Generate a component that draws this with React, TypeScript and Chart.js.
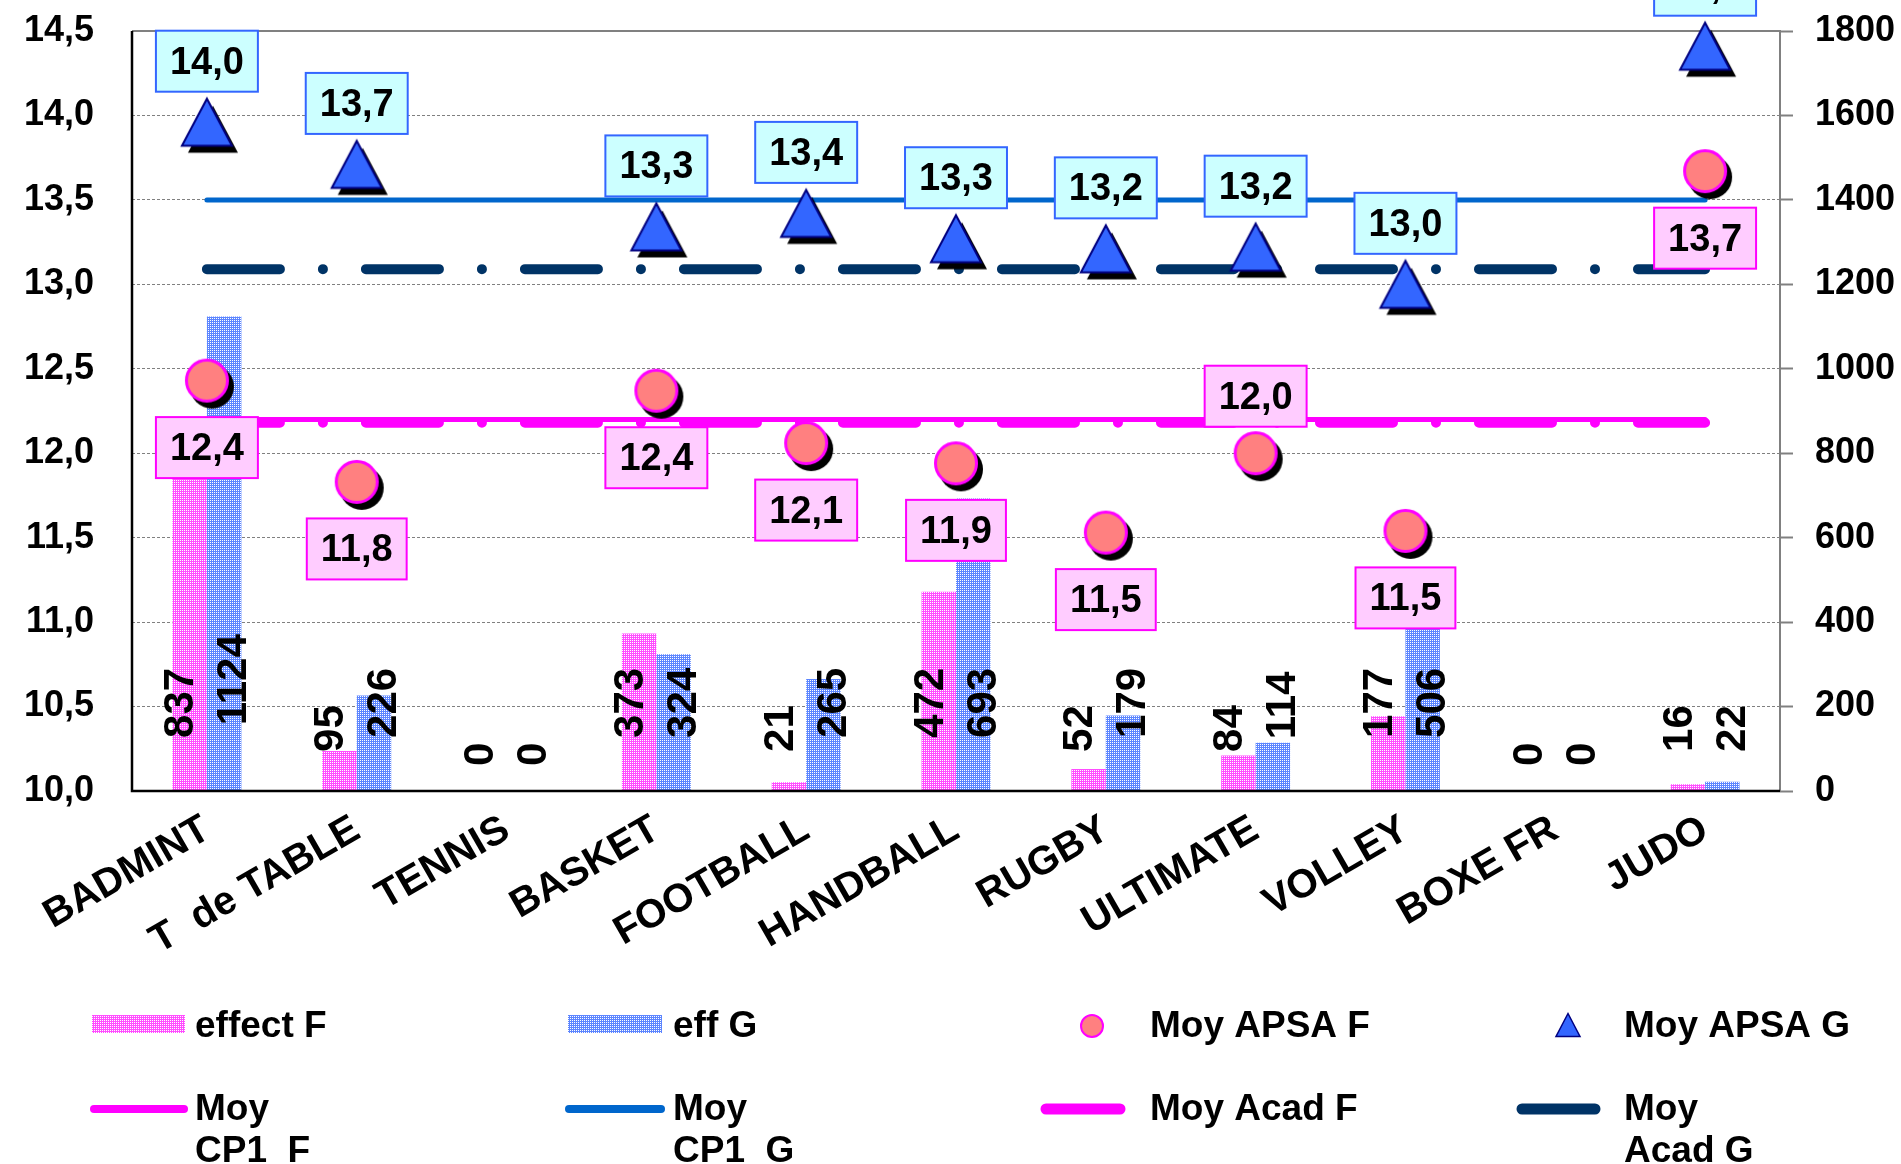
import React, { useEffect, useRef } from 'react';
import { Chart, registerables } from 'chart.js';

Chart.register(...registerables);

// ---------------- DATA ----------------
const categories = ['BADMINT', 'T  de TABLE', 'TENNIS', 'BASKET', 'FOOTBALL', 'HANDBALL', 'RUGBY', 'ULTIMATE', 'VOLLEY', 'BOXE FR', 'JUDO'];
const effectF = [837, 95, 0, 373, 21, 472, 52, 84, 177, 0, 16];
const effG = [1124, 226, 0, 324, 265, 693, 179, 114, 506, 0, 22];
const moyApsaF = [12.43, 11.83, null, 12.37, 12.06, 11.94, 11.53, 12.0, 11.54, null, 13.67];
const moyApsaG = [13.96, 13.71, null, 13.34, 13.42, 13.27, 13.21, 13.22, 13.0, null, 14.41];
const moyCP1F = [12.2, 12.2, 12.2, 12.2, 12.2, 12.2, 12.2, 12.2, 12.2, 12.2, 12.2];
const moyCP1G = [13.5, 13.5, 13.5, 13.5, 13.5, 13.5, 13.5, 13.5, 13.5, 13.5, 13.5];
const moyAcadF = [12.18, 12.18, 12.18, 12.18, 12.18, 12.18, 12.18, 12.18, 12.18, 12.18, 12.18];
const moyAcadG = [13.09, 13.09, 13.09, 13.09, 13.09, 13.09, 13.09, 13.09, 13.09, 13.09, 13.09];
const leftTickValues = [10.0, 10.5, 11.0, 11.5, 12.0, 12.5, 13.0, 13.5, 14.0, 14.5];
const rightTickValues = [0, 200, 400, 600, 800, 1000, 1200, 1400, 1600, 1800];
const seriesNames = ['effect F', 'eff G', 'Moy APSA F', 'Moy APSA G', 'Moy CP1  F', 'Moy CP1  G', 'Moy Acad F', 'Moy Acad G'];
const legendLines = [['effect F'], ['eff G'], ['Moy APSA F'], ['Moy APSA G'], ['Moy', 'CP1  F'], ['Moy', 'CP1  G'], ['Moy Acad F'], ['Moy', 'Acad G']];
// label placement for "Moy APSA F" boxes (relative to the marker)
const apsaFLabelSide = ['below', 'below', 'below', 'below', 'below', 'below', 'below', 'above', 'below', 'below', 'below'];

// ---------------- STYLE ----------------
const FONT = "'Liberation Sans', Arial, Helvetica, sans-serif";
const PINK = '#FF00FF';
const BLUE_LINE = '#0066CC';
const NAVY = '#003366';
const TRI_FILL = '#3366FF';
const TRI_STROKE = '#000080';
const CIRC_FILL = '#FF8080';
const DASH_DOT = [73, 43, 0.01, 43];

function makePattern(base: string, dot: string) {
  const c = document.createElement('canvas');
  c.width = 2;
  c.height = 2;
  const g = c.getContext('2d')!;
  g.fillStyle = base;
  g.fillRect(0, 0, 2, 2);
  g.fillStyle = dot;
  g.fillRect(0, 0, 1, 1);
  return g.createPattern(c, 'repeat')!;
}

function makeCircleMarker() {
  const S = 60;
  const c = document.createElement('canvas');
  c.width = S;
  c.height = S;
  const g = c.getContext('2d')!;
  const cx = S / 2, cy = S / 2;
  g.fillStyle = '#000';
  g.beginPath();
  g.arc(cx + 5, cy + 6, 22, 0, Math.PI * 2);
  g.fill();
  g.fillStyle = CIRC_FILL;
  g.strokeStyle = PINK;
  g.lineWidth = 3;
  g.beginPath();
  g.arc(cx, cy, 20.5, 0, Math.PI * 2);
  g.fill();
  g.stroke();
  return c;
}

function triPath(g: CanvasRenderingContext2D, cx: number, cy: number, hw: number, hh: number) {
  g.beginPath();
  g.moveTo(cx, cy - hh);
  g.lineTo(cx + hw, cy + hh);
  g.lineTo(cx - hw, cy + hh);
  g.closePath();
}

function makeTriangleMarker() {
  const W = 74, H = 72;
  const c = document.createElement('canvas');
  c.width = W;
  c.height = H;
  const g = c.getContext('2d')!;
  const cx = W / 2, cy = H / 2;
  g.fillStyle = '#000';
  triPath(g, cx + 6, cy + 7, 25, 23.5);
  g.fill();
  g.fillStyle = TRI_FILL;
  g.strokeStyle = TRI_STROKE;
  g.lineWidth = 2;
  triPath(g, cx, cy, 25, 23.5);
  g.fill();
  g.stroke();
  return c;
}

const fmt1 = (v: number) => v.toFixed(1).replace('.', ',');

function drawBox(ctx: CanvasRenderingContext2D, cx: number, cy: number, text: string, fill: string, stroke: string) {
  ctx.font = `bold 38px ${FONT}`;
  const w = ctx.measureText(text).width + 28;
  const h = 61;
  ctx.fillStyle = fill;
  ctx.fillRect(cx - w / 2, cy - h / 2, w, h);
  ctx.strokeStyle = stroke;
  ctx.lineWidth = 2;
  ctx.strokeRect(cx - w / 2, cy - h / 2, w, h);
  ctx.fillStyle = '#000';
  ctx.textAlign = 'center';
  ctx.textBaseline = 'middle';
  ctx.fillText(text, cx, cy + 2);
}

export default function App() {
  const ref = useRef<HTMLCanvasElement>(null);

  useEffect(() => {
    const canvas = ref.current!;
    const pinkPattern = makePattern('#FF4DFF', '#FFFFFF');
    const bluePattern = makePattern('#5C85FF', '#FFFFFF');
    const circleMarker = makeCircleMarker();
    const triMarker = makeTriangleMarker();

    const framePlugin = {
      id: 'frame',
      beforeDatasetsDraw(chart: any) {
        const { ctx, chartArea: a } = chart;
        ctx.save();
        ctx.lineWidth = 2;
        ctx.strokeStyle = '#808080';
        ctx.beginPath();
        ctx.moveTo(a.left, a.top);
        ctx.lineTo(a.right, a.top);
        ctx.lineTo(a.right, a.bottom);
        ctx.stroke();
        ctx.restore();
      },
      afterDatasetsDraw(chart: any) {
        const { ctx, chartArea: a } = chart;
        ctx.save();
        ctx.lineWidth = 2.5;
        ctx.strokeStyle = '#000';
        ctx.beginPath();
        ctx.moveTo(a.left, a.top);
        ctx.lineTo(a.left, a.bottom);
        ctx.lineTo(a.right, a.bottom);
        ctx.stroke();
        ctx.restore();
      },
    };

    const labelPlugin = {
      id: 'valueLabels',
      afterDatasetsDraw(chart: any) {
        const { ctx, chartArea: a } = chart;
        const xs = chart.scales.x;
        const ys = chart.scales.y;
        ctx.save();
        // bar value labels (vertical)
        ctx.font = `bold 42px ${FONT}`;
        ctx.fillStyle = '#000';
        ctx.textAlign = 'left';
        ctx.textBaseline = 'middle';
        const groups: [number[], number][] = [[effectF, -25], [effG, 28]];
        groups.forEach(([arr, dx]) => {
          arr.forEach((v, i) => {
            const t = String(v);
            const w = ctx.measureText(t).width;
            const x = xs.getPixelForValue(i) + dx;
            const yb = a.bottom - 11 - 0.6 * w;
            ctx.save();
            ctx.translate(x, yb);
            ctx.rotate(-Math.PI / 2);
            ctx.fillText(t, 0, 0);
            ctx.restore();
          });
        });
        // APSA G boxes (above triangles)
        moyApsaG.forEach((v, i) => {
          if (v == null) return;
          const x = xs.getPixelForValue(i);
          const y = ys.getPixelForValue(v);
          drawBox(ctx, x, y - 61, fmt1(v), '#CCFFFF', '#3366FF');
        });
        // APSA F boxes
        moyApsaF.forEach((v, i) => {
          if (v == null) return;
          const x = xs.getPixelForValue(i);
          const y = ys.getPixelForValue(v);
          const cy = apsaFLabelSide[i] === 'above' ? y - 57 : y + 67;
          drawBox(ctx, x, cy, fmt1(v), '#FFCCFF', PINK);
        });
        ctx.restore();
      },
    };

    const legendPlugin = {
      id: 'customLegend',
      afterDraw(chart: any) {
        const ctx: CanvasRenderingContext2D = chart.ctx;
        const colX = [92, 568, 1041, 1517];
        const textX = [195, 673, 1150, 1624];
        const row1 = 1024;
        const row2 = 1109;
        ctx.save();
        // row 1 symbols
        ctx.fillStyle = pinkPattern;
        ctx.fillRect(colX[0], row1 - 9, 93, 18);
        ctx.fillStyle = bluePattern;
        ctx.fillRect(colX[1], row1 - 9, 94, 18);
        ctx.fillStyle = CIRC_FILL;
        ctx.strokeStyle = PINK;
        ctx.lineWidth = 2;
        ctx.beginPath();
        ctx.arc(1092, row1 + 2, 11, 0, Math.PI * 2);
        ctx.fill();
        ctx.stroke();
        ctx.fillStyle = TRI_FILL;
        ctx.strokeStyle = TRI_STROKE;
        ctx.lineWidth = 1.5;
        triPath(ctx, 1568, row1 + 1, 12, 11.5);
        ctx.fill();
        ctx.stroke();
        // row 2 symbols
        const lineSym = (x1: number, x2: number, color: string, w: number) => {
          ctx.strokeStyle = color;
          ctx.lineWidth = w;
          ctx.lineCap = 'round';
          ctx.beginPath();
          ctx.moveTo(x1, row2);
          ctx.lineTo(x2, row2);
          ctx.stroke();
        };
        lineSym(94, 184, PINK, 8);
        lineSym(569, 661, BLUE_LINE, 8);
        lineSym(1046, 1120, PINK, 11);
        lineSym(1522, 1595, NAVY, 11);
        // texts
        ctx.font = `bold 37px ${FONT}`;
        ctx.fillStyle = '#000';
        ctx.textAlign = 'left';
        ctx.textBaseline = 'alphabetic';
        legendLines.forEach((lines, k) => {
          const col = k % 4;
          const base = k < 4 ? 1037 : 1120;
          lines.forEach((ln, j) => ctx.fillText(ln, textX[col], base + j * 42));
        });
        ctx.restore();
      },
    };

    const tickFont = { family: FONT, size: 36, weight: 'bold' as const };
    const xFont = { family: FONT, size: 40, weight: 'bold' as const };

    const chart = new Chart(canvas, {
      type: 'bar',
      data: {
        labels: categories,
        datasets: [
          { type: 'bar', label: seriesNames[0], data: effectF, yAxisID: 'y1', backgroundColor: pinkPattern as any, borderWidth: 0, categoryPercentage: 0.46, barPercentage: 1, order: 10 },
          { type: 'bar', label: seriesNames[1], data: effG, yAxisID: 'y1', backgroundColor: bluePattern as any, borderWidth: 0, categoryPercentage: 0.46, barPercentage: 1, order: 10 },
          { type: 'line', label: seriesNames[2], data: moyApsaF as any, yAxisID: 'y', showLine: false, pointStyle: circleMarker as any, pointRadius: 22, order: 1, clip: false as any },
          { type: 'line', label: seriesNames[3], data: moyApsaG as any, yAxisID: 'y', showLine: false, pointStyle: triMarker as any, pointRadius: 25, order: 1, clip: false as any },
          { type: 'line', label: seriesNames[4], data: moyCP1F, yAxisID: 'y', borderColor: PINK, borderWidth: 5, borderCapStyle: 'round', pointRadius: 0, tension: 0, order: 6 },
          { type: 'line', label: seriesNames[5], data: moyCP1G, yAxisID: 'y', borderColor: BLUE_LINE, borderWidth: 5, borderCapStyle: 'round', pointRadius: 0, tension: 0, order: 6 },
          { type: 'line', label: seriesNames[6], data: moyAcadF, yAxisID: 'y', borderColor: PINK, borderWidth: 10, borderDash: DASH_DOT, borderCapStyle: 'round', pointRadius: 0, tension: 0, order: 5 },
          { type: 'line', label: seriesNames[7], data: moyAcadG, yAxisID: 'y', borderColor: NAVY, borderWidth: 10, borderDash: DASH_DOT, borderCapStyle: 'round', pointRadius: 0, tension: 0, order: 5 },
        ],
      },
      options: {
        responsive: false,
        animation: false,
        events: [],
        layout: { padding: { top: 31, left: 0, right: 0, bottom: 0 } },
        plugins: { legend: { display: false }, tooltip: { enabled: false } },
        scales: {
          x: {
            type: 'category',
            offset: true,
            grid: { display: false, drawTicks: false },
            border: { display: false },
            ticks: { autoSkip: false, minRotation: 30, maxRotation: 30, padding: 15, color: '#000', font: xFont },
            afterFit: (s: any) => { s.height = 373; s.paddingLeft = 0; s.paddingRight = 0; },
          },
          y: {
            position: 'left',
            min: 10,
            max: 14.5,
            grid: { color: '#808080', lineWidth: 1, drawTicks: false },
            border: { display: false, dash: [3, 2] },
            afterBuildTicks: (s: any) => { s.ticks = leftTickValues.map((v) => ({ value: v })); },
            ticks: { padding: 38, color: '#000', font: tickFont, callback: (v: any) => fmt1(Number(v)) },
            afterFit: (s: any) => { s.width = 132; s.paddingTop = 0; s.paddingBottom = 0; },
          },
          y1: {
            position: 'right',
            min: 0,
            max: 1800,
            grid: { drawOnChartArea: false, drawTicks: true, tickLength: 13, tickColor: '#808080', tickWidth: 2 },
            border: { display: false },
            afterBuildTicks: (s: any) => { s.ticks = rightTickValues.map((v) => ({ value: v })); },
            ticks: { padding: 22, color: '#000', font: tickFont, callback: (v: any) => String(v) },
            afterFit: (s: any) => { s.width = 121; s.paddingTop = 0; s.paddingBottom = 0; },
          },
        },
      } as any,
      plugins: [framePlugin, labelPlugin, legendPlugin],
    });
    return () => chart.destroy();
  }, []);

  return (
    <div style={{ position: 'absolute', left: 0, top: 0, width: 1901, height: 1164, background: '#fff' }}>
      <canvas ref={ref} width={1901} height={1164} style={{ display: 'block', width: 1901, height: 1164 }} />
    </div>
  );
}
